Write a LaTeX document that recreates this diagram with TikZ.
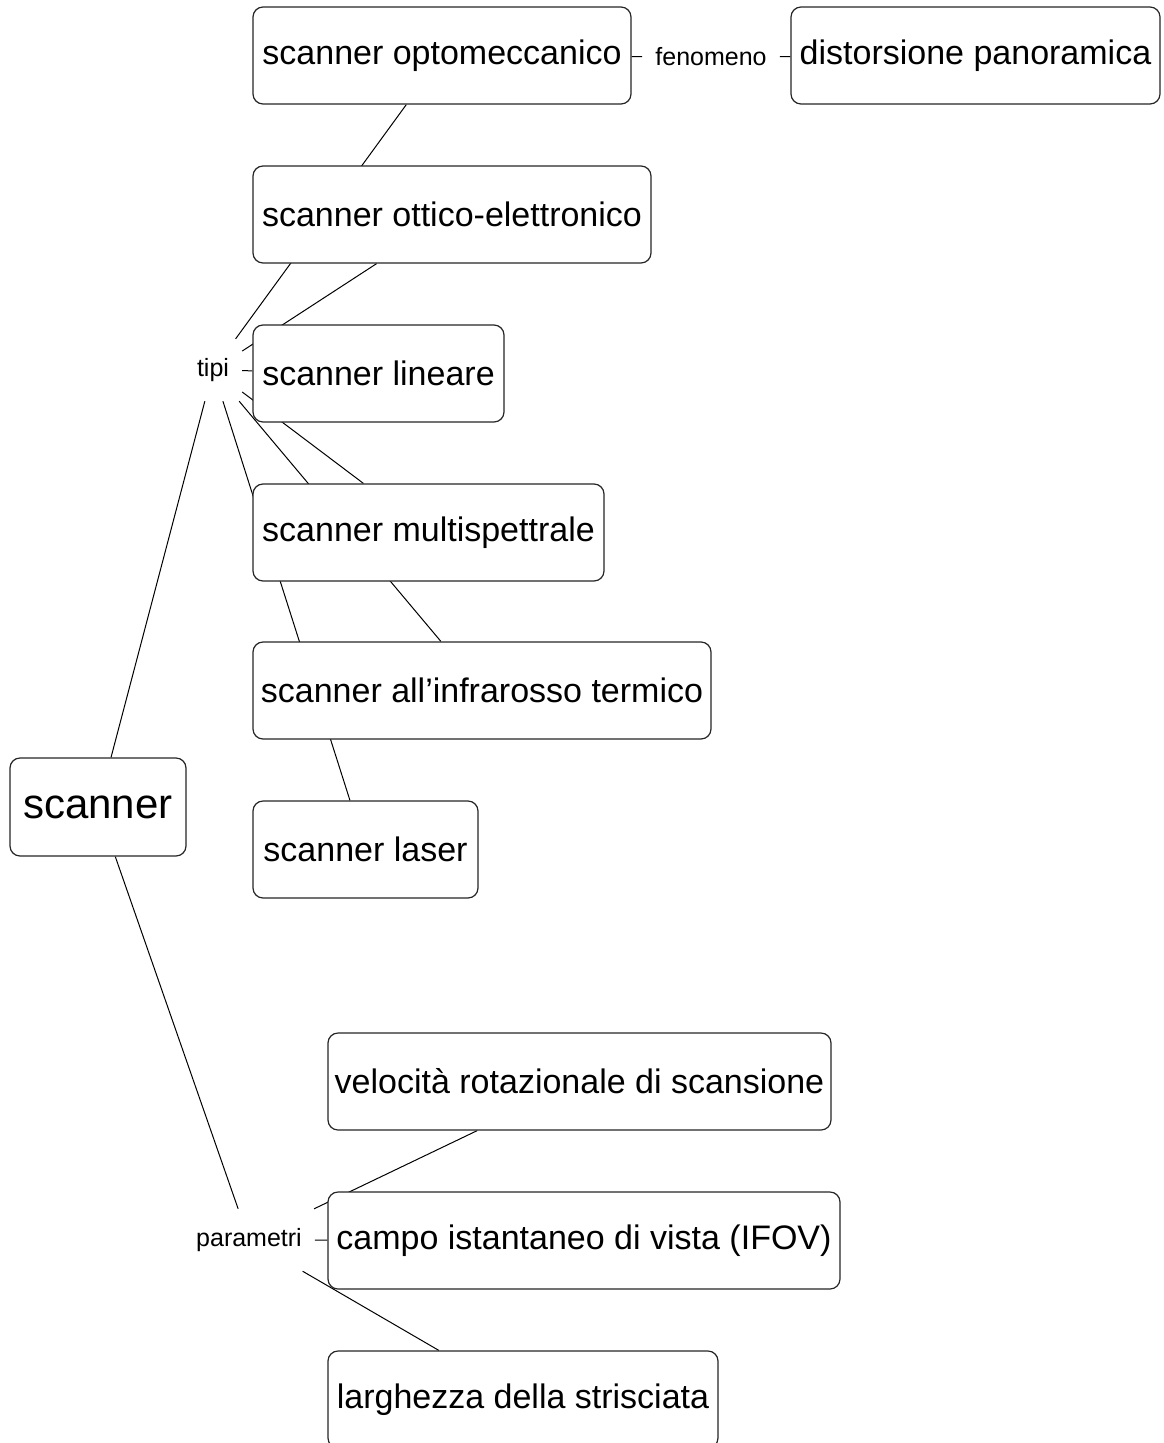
\documentclass[tikz,border=0pt]{standalone}
\usepackage{fontspec}
\setmainfont{Liberation Sans}
\usetikzlibrary{backgrounds}

\tikzset{
  concept/.style={draw=black!85, rounded corners=10pt, fill=white, line width=1.2pt,
    font=\fontsize{34}{40}\selectfont, inner sep=2pt, minimum height=97pt, align=center},
  linkphrase/.style={font=\fontsize{25}{30}\selectfont, inner xsep=13pt, inner ysep=2pt,
    minimum height=62pt},
  link/.style={draw=black, line width=1pt}
}

\begin{document}
\begin{tikzpicture}[x=1pt, y=-1pt]
\useasboundingbox (0,0) rectangle (1164,1443);

% concepts
\node[concept, minimum width=176pt, minimum height=98pt, font=\fontsize{42}{48}\selectfont] (scanner) at (98,807) {scanner};
\node[concept, minimum width=378pt] (opto)   at (442,55.5)   {scanner optomeccanico};
\node[concept, minimum width=369pt] (dist)   at (975.5,55.5) {distorsione panoramica};
\node[concept, minimum width=398pt] (ottico) at (452,214.5)  {scanner ottico-elettronico};
\node[concept, minimum width=251pt] (lin)    at (378.5,373.5) {scanner lineare};
\node[concept, minimum width=351pt] (multi)  at (428.5,532.5) {scanner multispettrale};
\node[concept, minimum width=458pt] (ir)     at (482,690.5)  {scanner all’infrarosso termico};
\node[concept, minimum width=225pt] (laser)  at (365.5,849.5) {scanner laser};
\node[concept, minimum width=503pt] (vel)    at (579.5,1081.5) {velocità rotazionale di scansione};
\node[concept, minimum width=512pt] (ifov)   at (584,1240.5) {campo istantaneo di vista (IFOV)};
\node[concept, minimum width=390pt] (larg)   at (523,1399.5) {larghezza della strisciata};

% linking phrases
\node[linkphrase] (tipi) at (213,370) {tipi};
\node[linkphrase] (param) at (249,1240) {parametri};
\node[linkphrase] (fen) at (711,57) {fenomeno};

% connectors, kept behind the concept boxes
\begin{pgfonlayer}{background}
\draw[link] (scanner) -- (tipi);
\draw[link] (tipi) -- (opto);
\draw[link] (tipi) -- (ottico);
\draw[link] (tipi) -- (lin);
\draw[link] (tipi) -- (multi);
\draw[link] (tipi) -- (ir);
\draw[link] (tipi) -- (laser);
\draw[link] (scanner) -- (param);
\draw[link] (param) -- (vel);
\draw[link] (param) -- (ifov);
\draw[link] (param) -- (larg);
\draw[link] (opto) -- (fen);
\draw[link] (fen) -- (dist);
\end{pgfonlayer}
\end{tikzpicture}
\end{document}
